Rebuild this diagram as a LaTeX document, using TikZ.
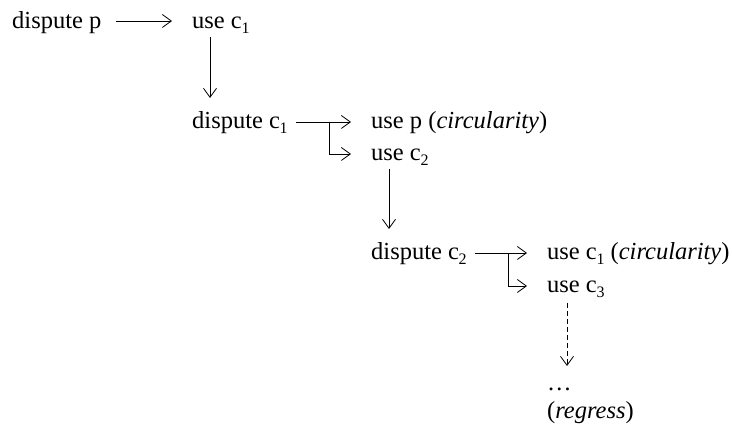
\documentclass[tikz,border=0pt]{standalone}
\usepackage{fontspec}
\setmainfont{Liberation Serif}
\usetikzlibrary{arrows.meta}
\newcommand{\csub}[1]{c\kern-0.3pt\raisebox{-0.18em}{\fontsize{16}{16}\selectfont #1}}
\tikzset{
  lbl/.style={anchor=base west, inner sep=0pt, font=\fontsize{24.5}{29}\selectfont},
  arr/.style={line width=0.8pt, -{Straight Barb[length=9pt,width=13pt,line width=0.8pt]}},
  dasharr/.style={arr, dashed, dash pattern=on 5pt off 3pt},
}
\begin{document}
\begin{tikzpicture}[x=1pt,y=-1pt]
  \useasboundingbox (0,0) rectangle (732,430);
  % statements
  \node[lbl] (dp)  at (12,29)   {dispute p};
  \node[lbl] (u1)  at (192,29)  {use \csub{1}};
  \node[lbl] (d1)  at (192,129) {dispute \csub{1}};
  \node[lbl] (up)  at (371,129) {use p (\textit{circularity})};
  \node[lbl] (u2)  at (371,161) {use \csub{2}};
  \node[lbl] (d2)  at (371,260) {dispute \csub{2}};
  \node[lbl] (uc1) at (547,260) {use \csub{1} (\textit{circularity})};
  \node[lbl] (u3)  at (547,293) {use \csub{3}};
  \node[lbl] (dots) at (547,391) {\dots};
  \node[lbl] (reg) at (547,419) {(\textit{regress})};

  % dispute p -> use c1
  \draw[arr] ([xshift=14pt,yshift=8pt]dp.base east) -- ([xshift=-20pt,yshift=8pt]u1.base west);
  % use c1 -> dispute c1
  \draw[arr] ([xshift=18pt,yshift=-8pt]u1.base west) -- ([xshift=18pt,yshift=31pt]d1.base west);

  % dispute c1 -> use p / use c2
  \coordinate (b1) at ([xshift=42pt,yshift=7pt]d1.base east);
  \draw[arr] ([xshift=8pt,yshift=7pt]d1.base east) -- ([xshift=-20pt,yshift=7pt]up.base west);
  \draw[arr] (b1) |- ([xshift=-20pt,yshift=7pt]u2.base west);
  % use c2 -> dispute c2
  \draw[arr] ([xshift=18pt,yshift=-8pt]u2.base west) -- ([xshift=18pt,yshift=31pt]d2.base west);

  % dispute c2 -> use c1 / use c3
  \coordinate (b2) at ([xshift=42pt,yshift=7pt]d2.base east);
  \draw[arr] ([xshift=8pt,yshift=7pt]d2.base east) -- ([xshift=-20pt,yshift=7pt]uc1.base west);
  \draw[arr] (b2) |- ([xshift=-20pt,yshift=7pt]u3.base west);
  % use c3 -> ...
  \draw[dasharr] ([xshift=20pt,yshift=-10pt]u3.base west) -- ([xshift=20pt,yshift=25pt]dots.base west);
\end{tikzpicture}
\end{document}
